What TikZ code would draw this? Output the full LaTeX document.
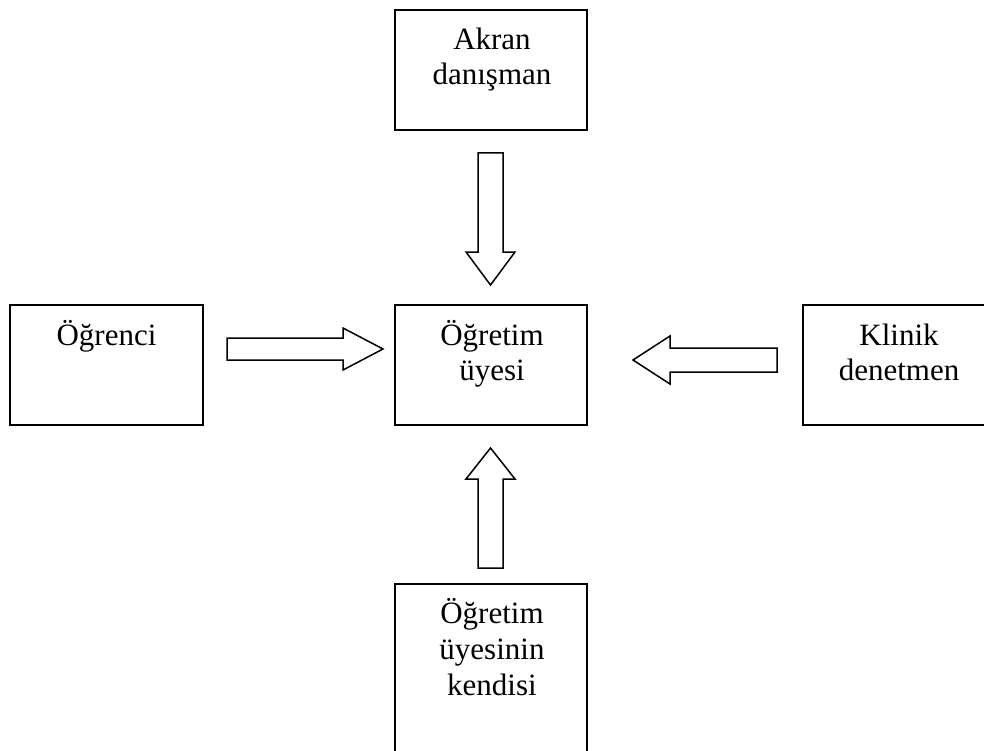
\documentclass[tikz,border=0pt]{standalone}
\usepackage{fontspec}
\setmainfont{Liberation Serif}
\begin{document}
\begin{tikzpicture}[x=1pt,y=-1pt,
  box/.style={draw=black,line width=2pt},
  blockarrow/.style={draw=black,line width=1.5pt,line join=miter,fill=white},
  txt/.style={anchor=base,inner sep=0pt,font=\fontsize{31}{36}\selectfont}]
\useasboundingbox (0,0) rectangle (984,751);
\clip (0,0) rectangle (984,751);
% boxes
\draw[box] (395,10) rectangle (587,130);
\draw[box] (395,305) rectangle (587,425);
\draw[box] (10,305) rectangle (203,425);
\draw[box] (803,305) rectangle (995,425);
\draw[box] (395,584) rectangle (587,760);
% texts
\node[txt] (ta) at (492,50) {Akran};
\node[txt] (tb) at (492,85) {danışman};
\node[txt] (ca) at (492,345) {Öğretim};
\node[txt] (cb) at (492,380) {üyesi};
\node[txt] (la) at (106.5,345) {Öğrenci};
\node[txt] (ra) at (899,345) {Klinik};
\node[txt] (rb) at (899,380) {denetmen};
\node[txt] (ba) at (492,623) {Öğretim};
\node[txt] (bb) at (492,659) {üyesinin};
\node[txt] (bc) at (492,695) {kendisi};
% block arrows
\draw[blockarrow] (478,153) -- (503,153) -- (503,252) -- (515,252) -- (490.5,285)
  -- (466,252) -- (478,252) -- cycle;
\draw[blockarrow] (227,338) -- (343,338) -- (343,328) -- (383,349) -- (343,370)
  -- (343,360) -- (227,360) -- cycle;
\draw[blockarrow] (777,348) -- (670,348) -- (670,336) -- (633,360) -- (670,384)
  -- (670,372) -- (777,372) -- cycle;
\draw[blockarrow] (478,568) -- (503,568) -- (503,479) -- (515,479) -- (490.5,448)
  -- (466,479) -- (478,479) -- cycle;
\end{tikzpicture}
\end{document}
